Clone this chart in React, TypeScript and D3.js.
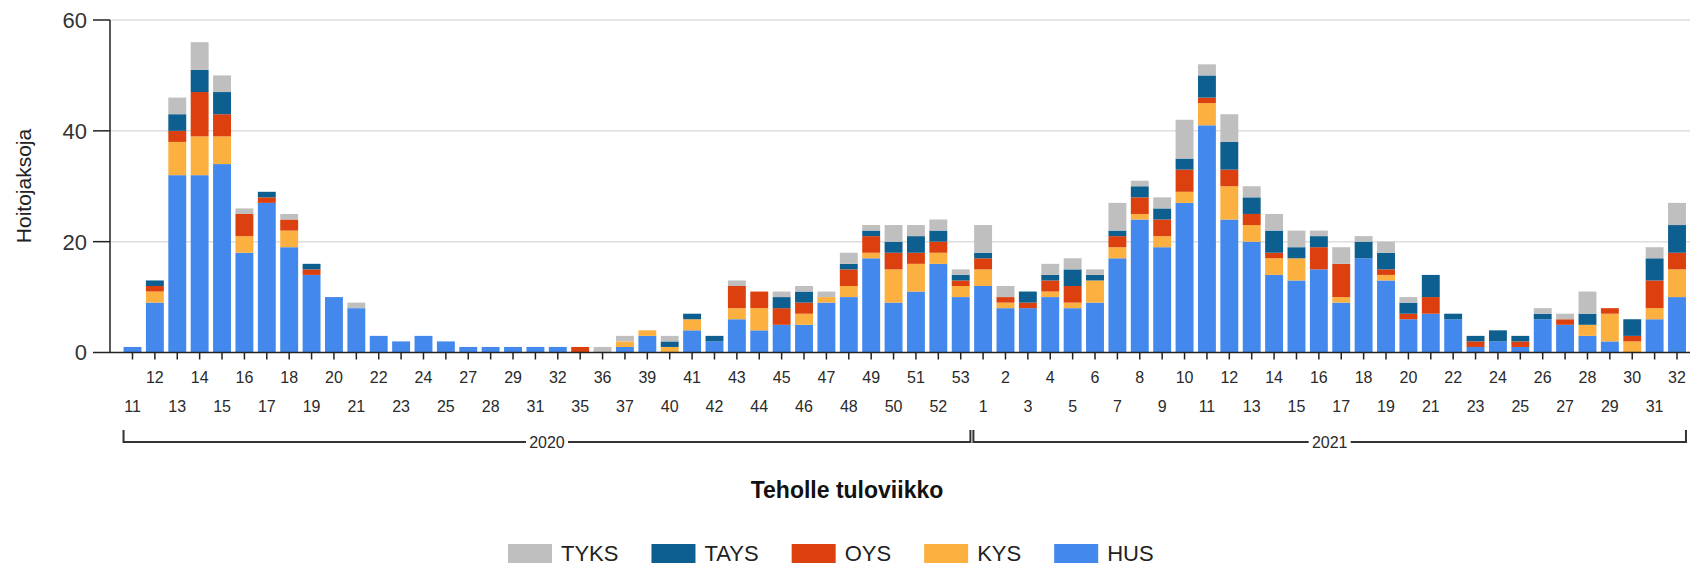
import React, { useEffect, useRef } from "react";
import * as d3 from "d3";

// weeks shown on the x axis (weeks with no admissions are left out)
const weeks2020 = ["11", "12", "13", "14", "15", "16", "17", "18", "19", "20", "21", "22", "23", "24", "25", "27", "28", "29", "31", "32", "35", "36", "37", "39", "40", "41", "42", "43", "44", "45", "46", "47", "48", "49", "50", "51", "52", "53"];
const weeks2021 = ["1", "2", "3", "4", "5", "6", "7", "8", "9", "10", "11", "12", "13", "14", "15", "16", "17", "18", "19", "20", "21", "22", "23", "24", "25", "26", "27", "28", "29", "30", "31", "32"];

// stacked from the bottom: HUS, KYS, OYS, TAYS, TYKS
const hus = [1, 9, 32, 32, 34, 18, 27, 19, 14, 10, 8, 3, 2, 3, 2, 1, 1, 1, 1, 1, 0, 0, 1, 3, 0, 4, 2, 6, 4, 5, 5, 9, 10, 17, 9, 11, 16, 10,
  12, 8, 8, 10, 8, 9, 17, 24, 19, 27, 41, 24, 20, 14, 13, 15, 9, 17, 13, 6, 7, 6, 1, 2, 1, 6, 5, 3, 2, 0, 6, 10];
const kys = [0, 2, 6, 7, 5, 3, 0, 3, 0, 0, 0, 0, 0, 0, 0, 0, 0, 0, 0, 0, 0, 0, 1, 1, 1, 2, 0, 2, 4, 0, 2, 1, 2, 1, 6, 5, 2, 2,
  3, 1, 0, 1, 1, 4, 2, 1, 2, 2, 4, 6, 3, 3, 4, 0, 1, 0, 1, 0, 0, 0, 0, 0, 0, 0, 0, 2, 5, 2, 2, 5];
const oys = [0, 1, 2, 8, 4, 4, 1, 2, 1, 0, 0, 0, 0, 0, 0, 0, 0, 0, 0, 0, 1, 0, 0, 0, 0, 0, 0, 4, 3, 3, 2, 0, 3, 3, 3, 2, 2, 1,
  2, 1, 1, 2, 3, 0, 2, 3, 3, 4, 1, 3, 2, 1, 0, 4, 6, 0, 1, 1, 3, 0, 1, 0, 1, 0, 1, 0, 1, 1, 5, 3];
const tays = [0, 1, 3, 4, 4, 0, 1, 0, 1, 0, 0, 0, 0, 0, 0, 0, 0, 0, 0, 0, 0, 0, 0, 0, 1, 1, 1, 0, 0, 2, 2, 0, 1, 1, 2, 3, 2, 1,
  1, 0, 2, 1, 3, 1, 1, 2, 2, 2, 4, 5, 3, 4, 2, 2, 0, 3, 3, 2, 4, 1, 1, 2, 1, 1, 0, 2, 0, 3, 4, 5];
const tyks = [0, 0, 3, 5, 3, 1, 0, 1, 0, 0, 1, 0, 0, 0, 0, 0, 0, 0, 0, 0, 0, 1, 1, 0, 1, 0, 0, 1, 0, 1, 1, 1, 2, 1, 3, 2, 2, 1,
  5, 2, 0, 2, 2, 1, 5, 1, 2, 7, 2, 5, 2, 3, 3, 1, 3, 1, 2, 1, 0, 0, 0, 0, 0, 1, 1, 4, 0, 0, 2, 4];

const seriesKeys = ["HUS", "KYS", "OYS", "TAYS", "TYKS"];
const legendKeys = ["TYKS", "TAYS", "OYS", "KYS", "HUS"];
const colors = { HUS: "#4388ec", KYS: "#fbb03f", OYS: "#dc400e", TAYS: "#0d5f8f", TYKS: "#bfbfbf" };
const yTicks = [0, 20, 40, 60];

const font = "'Liberation Sans', Arial, sans-serif";

function App() {
  const ref = useRef(null);

  useEffect(() => {
    d3.select(ref.current).selectAll("*").remove();

    const width = 1695;
    const height = 566;

    const cats = [...weeks2020.map((w) => "2020-" + w), ...weeks2021.map((w) => "2021-" + w)];
    const labels = [...weeks2020, ...weeks2021];
    const values = { HUS: hus, KYS: kys, OYS: oys, TAYS: tays, TYKS: tyks };
    const rows = cats.map((c, i) => {
      const r = { cat: c };
      seriesKeys.forEach((k) => (r[k] = values[k][i]));
      return r;
    });

    const svg = d3
      .select(ref.current)
      .append("svg")
      .attr("width", width)
      .attr("height", height)
      .style("display", "block")
      .style("font-family", font);

    const x = d3.scaleBand().domain(cats).range([121.3, 1688.2]).paddingInner(0.2).paddingOuter(0.1);
    const y = d3.scaleLinear().domain([0, 60]).range([352.5, 20]);
    const axisX = 110;

    // gridlines
    svg
      .selectAll(".grid")
      .data(yTicks.filter((t) => t > 0))
      .enter()
      .append("line")
      .attr("x1", axisX)
      .attr("x2", 1690)
      .attr("y1", (d) => y(d))
      .attr("y2", (d) => y(d))
      .attr("stroke", "#dedede")
      .attr("stroke-width", 1.5);

    const stacked = d3.stack().keys(seriesKeys)(rows);

    svg
      .selectAll(".layer")
      .data(stacked)
      .enter()
      .append("g")
      .attr("fill", (d) => colors[d.key])
      .selectAll("rect")
      .data((d) => d.filter((p) => p[1] > p[0]))
      .enter()
      .append("rect")
      .attr("x", (d) => x(d.data.cat))
      .attr("y", (d) => y(d[1]))
      .attr("width", x.bandwidth())
      .attr("height", (d) => y(d[0]) - y(d[1]));

    // y axis
    const yAxis = svg.append("g").attr("transform", `translate(${axisX},0)`);
    yAxis.append("line").attr("y1", y(60)).attr("y2", y(0)).attr("stroke", "#222").attr("stroke-width", 1.5);
    yTicks.forEach((t) => {
      yAxis.append("line").attr("x1", -17).attr("x2", 0).attr("y1", y(t)).attr("y2", y(t)).attr("stroke", "#222").attr("stroke-width", 1.5);
      yAxis
        .append("text")
        .attr("x", -23)
        .attr("y", y(t))
        .attr("dy", "0.36em")
        .attr("text-anchor", "end")
        .attr("font-size", 22)
        .attr("fill", "#333")
        .text(t);
    });

    // x axis
    svg.append("line").attr("x1", axisX).attr("x2", 1690).attr("y1", y(0)).attr("y2", y(0)).attr("stroke", "#222").attr("stroke-width", 1.5);
    const xAxis = svg.append("g");
    cats.forEach((c, i) => {
      const cx = x(c) + x.bandwidth() / 2;
      xAxis.append("line").attr("x1", cx).attr("x2", cx).attr("y1", y(0)).attr("y2", y(0) + 7).attr("stroke", "#222").attr("stroke-width", 1.5);
      xAxis
        .append("text")
        .attr("x", cx)
        .attr("y", i % 2 === 1 ? 383 : 412)
        .attr("text-anchor", "middle")
        .attr("font-size", 16)
        .attr("fill", "#2a2a2a")
        .text(labels[i]);
    });

    // year brackets
    const bw = x.bandwidth();
    const boundary = (x("2020-53") + bw + x("2021-1")) / 2;
    const groups = [
      { year: "2020", x0: x(cats[0]), x1: boundary - 1.5 },
      { year: "2021", x0: boundary + 1.5, x1: x(cats[cats.length - 1]) + bw },
    ];
    groups.forEach((g) => {
      svg
        .append("path")
        .attr("d", `M${g.x0},430V442H${g.x1}V430`)
        .attr("fill", "none")
        .attr("stroke", "#333")
        .attr("stroke-width", 2);
      const mid = (g.x0 + g.x1) / 2;
      svg.append("rect").attr("x", mid - 21).attr("y", 434).attr("width", 42).attr("height", 16).attr("fill", "#fff");
      svg
        .append("text")
        .attr("x", mid)
        .attr("y", 442)
        .attr("dy", "0.36em")
        .attr("text-anchor", "middle")
        .attr("font-size", 16)
        .attr("fill", "#2a2a2a")
        .text(g.year);
    });

    // axis titles
    svg
      .append("text")
      .attr("x", 847)
      .attr("y", 498)
      .attr("text-anchor", "middle")
      .attr("font-size", 23)
      .attr("font-weight", "bold")
      .attr("fill", "#111")
      .text("Teholle tuloviikko");

    svg
      .append("text")
      .attr("transform", `translate(31,186) rotate(-90)`)
      .attr("text-anchor", "middle")
      .attr("font-size", 21)
      .attr("fill", "#222")
      .text("Hoitojaksoja");

    // legend
    const legend = svg.append("g");
    let lx = 508;
    legendKeys.forEach((k) => {
      legend.append("rect").attr("x", lx).attr("y", 544).attr("width", 44).attr("height", 19).attr("fill", colors[k]);
      const t = legend
        .append("text")
        .attr("x", lx + 53)
        .attr("y", 561)
        .attr("font-size", 22)
        .attr("fill", "#222")
        .text(k);
      lx += 53 + t.node().getComputedTextLength() + 33;
    });
  }, []);

  return (
    <div>
      <style>{"body{margin:0}"}</style>
      <div ref={ref}></div>
    </div>
  );
}

export default App;
